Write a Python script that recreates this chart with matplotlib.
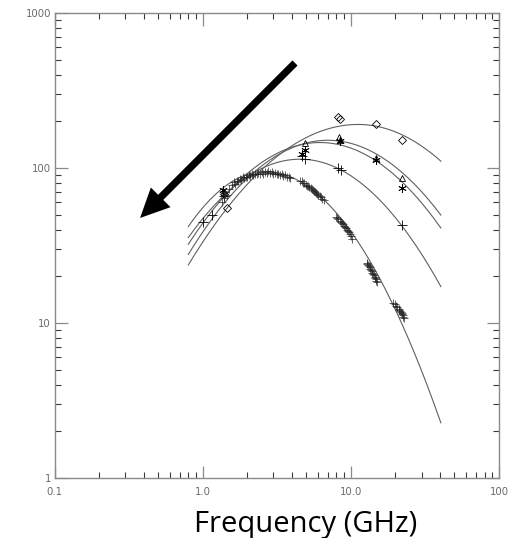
import numpy as np
import matplotlib
matplotlib.use("Agg")
import matplotlib.pyplot as plt
from matplotlib.ticker import FixedLocator, FixedFormatter, LogLocator, NullFormatter

# ---- fitted spectra: peak frequency (GHz), peak flux, curvature below / above the peak
epochs = ["A", "B", "C", "D", "E"]
peak_freq = [11.2, 7.0, 6.2, 4.54, 2.63]
peak_flux = [191.0, 151.0, 146.0, 114.0, 95.0]
curv_low = [0.69, 0.83, 0.83, 0.89, 1.33]
curv_high = [0.76, 0.83, 0.83, 0.91, 1.15]
fit_range = (0.80, 40.5)

# ---- measured flux densities per epoch
a_freq = [1.40, 1.47, 8.2, 8.4, 14.9, 22.3]
a_flux = [68.0, 55.0, 212.0, 208.0, 192.0, 152.0]

b_freq = [1.40, 4.9, 8.3, 8.5, 14.9, 22.3]
b_flux = [70.0, 146.0, 159.0, 152.0, 116.0, 86.0]

c_freq = [1.38, 4.7, 4.9, 8.4, 14.9, 22.3]
c_flux = [72.0, 124.0, 131.0, 150.0, 113.0, 74.6]

d_freq = [1.0, 1.15, 1.40, 4.7, 4.9, 8.2, 8.6, 22.3]
d_flux = [45.0, 50.0, 66.0, 120.0, 114.0, 100.0, 97.0, 43.0]

e_freq = [1.36, 1.40, 1.42, 1.45, 1.50,
          1.58, 1.62, 1.66, 1.70, 1.74, 1.78, 1.82, 1.86, 1.90, 1.95, 2.00, 2.05, 2.10,
          2.15, 2.20, 2.26, 2.32, 2.38, 2.44, 2.50, 2.57, 2.64, 2.71, 2.78, 2.85, 2.92,
          3.00, 3.08, 3.16, 3.24, 3.32, 3.41, 3.50, 3.60, 3.70, 3.80, 3.90,
          4.55, 4.65, 4.75, 4.85, 4.95, 5.05, 5.15, 5.25, 5.35, 5.45, 5.55, 5.65, 5.75,
          5.85, 5.95, 6.05, 6.15, 6.25, 6.40, 6.55,
          7.95, 8.10, 8.25, 8.40, 8.55, 8.70, 8.85, 9.00, 9.15, 9.30, 9.45, 9.60, 9.75,
          9.90, 10.05, 10.2,
          12.8, 12.95, 13.1, 13.25, 13.4, 13.55, 13.7, 13.85, 14.0, 14.15, 14.3, 14.45,
          14.6, 14.75, 14.9, 15.05,
          19.4, 19.8, 20.2, 20.6, 21.0, 21.3, 21.6, 21.8, 22.0, 22.2, 22.4, 22.6, 22.8]
e_flux = [60.0, 64.0, 70.0, 67.0, 73.0,
          78.0, 81.0, 79.0, 83.0, 82.0, 85.0, 84.0, 87.0, 86.0, 88.0, 87.0, 90.0, 89.0,
          91.0, 90.0, 92.0, 91.0, 93.0, 92.0, 94.0, 92.0, 94.0, 93.0, 95.0, 93.0, 94.0,
          92.0, 93.0, 91.0, 92.0, 90.0, 91.0, 89.0, 90.0, 88.0, 88.0, 86.0,
          83.0, 82.0, 80.0, 80.0, 78.0, 77.0, 76.0, 75.0, 74.0, 73.0, 72.0, 71.0, 70.0,
          69.0, 68.0, 67.0, 66.0, 65.0, 63.5, 62.0,
          48.5, 47.5, 47.0, 45.5, 45.0, 44.0, 43.5, 42.5, 41.5, 41.0, 40.0, 39.0, 38.5,
          37.5, 36.5, 35.0,
          24.5, 24.2, 23.8, 23.2, 22.9, 22.3, 22.0, 21.5, 21.1, 20.6, 20.3, 19.8,
          19.5, 19.1, 18.8, 18.5,
          13.5, 13.2, 12.9, 12.6, 12.3, 12.1, 11.9, 11.7, 11.6, 11.4, 11.2, 11.0, 10.8]

x_ticks = [0.1, 1.0, 10.0, 100.0]
x_ticklabels = ["0.1", "1.0", "10.0", "100"]
y_ticks = [1, 10, 100, 1000]
y_ticklabels = ["1", "10", "100", "1000"]

frame_col = "#8a8a8a"
line_col = "#606060"


def spectrum(freq, nu_p, s_p, k_lo, k_hi):
    """Curved power law: parabola in log-log space with separate curvature on each side."""
    dx = np.log10(freq) - np.log10(nu_p)
    k = np.where(dx < 0, k_lo, k_hi)
    return s_p * 10 ** (-k * dx ** 2)


fig = plt.figure(figsize=(5.12, 5.38), dpi=100)
ax = fig.add_axes([54.5 / 512, 1 - 478 / 538, (499 - 54.5) / 512, (478 - 13) / 538])
ax.set_xscale("log")
ax.set_yscale("log")
ax.set_xlim(0.1, 100)
ax.set_ylim(1, 1000)

grid = np.geomspace(fit_range[0], fit_range[1], 300)
for nu_p, s_p, k_lo, k_hi in zip(peak_freq, peak_flux, curv_low, curv_high):
    ax.plot(grid, spectrum(grid, nu_p, s_p, k_lo, k_hi), color=line_col, lw=0.8)

mk = dict(linestyle="none", color="black", mew=0.6)
ax.plot(a_freq, a_flux, marker="D", ms=4.5, mfc="none", **mk)
ax.plot(b_freq, b_flux, marker="^", ms=5, mfc="none", **mk)
ax.plot(c_freq, c_flux, marker=(6, 2, 0), ms=6, **mk)
ax.plot(d_freq, d_flux, marker="+", ms=7, **mk)
ax.plot(e_freq, e_flux, marker="+", ms=6, color="#252525", linestyle="none", mew=0.5)

# evolution arrow
ax.annotate("", xy=(0.378, 47.6), xytext=(4.2, 476),
            arrowprops=dict(arrowstyle="simple,tail_width=0.26,head_width=1.0,head_length=1.05",
                            mutation_scale=20, lw=0, fc="black", ec="black",
                            shrinkA=0, shrinkB=0))

# axes styling
for sp in ax.spines.values():
    sp.set_color(frame_col)
    sp.set_linewidth(1.0)
ax.xaxis.set_major_locator(FixedLocator(x_ticks))
ax.xaxis.set_major_formatter(FixedFormatter(x_ticklabels))
ax.yaxis.set_major_locator(FixedLocator(y_ticks))
ax.yaxis.set_major_formatter(FixedFormatter(y_ticklabels))
ax.xaxis.set_minor_locator(LogLocator(base=10, subs=np.arange(2, 10)))
ax.yaxis.set_minor_locator(LogLocator(base=10, subs=np.arange(2, 10)))
ax.xaxis.set_minor_formatter(NullFormatter())
ax.yaxis.set_minor_formatter(NullFormatter())
ax.tick_params(which="both", direction="in", top=True, right=True,
               labelcolor="#6a6a6a", labelsize=7.3)
ax.tick_params(which="major", length=9, width=0.9, color=frame_col)
ax.tick_params(which="minor", length=4.5, width=0.8, color="#3a3a3a")
ax.tick_params(axis="x", which="major", pad=6.5)
ax.tick_params(axis="y", which="major", pad=2.5)

fig.text(305.5 / 512, 1 - 532 / 538, "Frequency (GHz)", ha="center", va="baseline",
         fontsize=21, family="Open Sans", color="black")

fig.savefig("out.png", dpi=100)
